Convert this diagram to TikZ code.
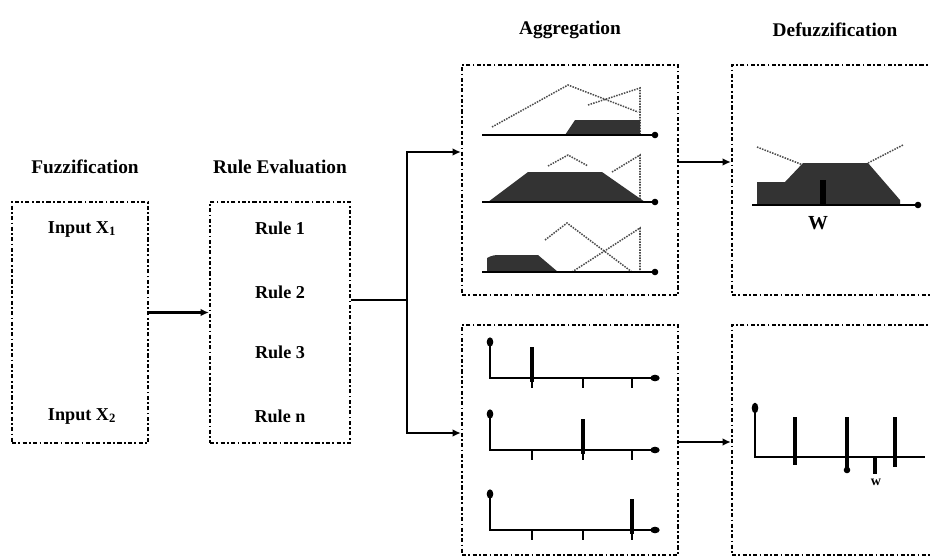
\documentclass[tikz,border=0pt]{standalone}
\usepackage{fontspec}
\setmainfont{Liberation Serif}
\usetikzlibrary{calc,arrows.meta}

\begin{document}
\begin{tikzpicture}[x=0.03cm, y=-0.03cm,
  stage/.style={draw, line width=2pt, dash pattern=on 3.5pt off 2pt on 1.5pt off 2pt, inner sep=0pt},
  title/.style={font=\fontsize{16.5}{19}\selectfont\bfseries},
  item/.style={font=\fontsize{15.5}{18}\selectfont\bfseries},
  link/.style={-{Latex[length=7pt,width=6.5pt]}, line width=2pt},
  axis/.style={line width=2.4pt},
  fuzzy/.style={fill=black!80},
  member/.style={densely dotted, line width=1.3pt, black!70},
  spike/.style={line width=3pt}
]
\useasboundingbox (0,0) rectangle (930,557);

% the four stages
\node[stage, minimum width=4.08cm, minimum height=7.23cm] (fuzz) at (80,322.5) {};
\node[stage, minimum width=4.2cm, minimum height=7.23cm] (rule) at (280,322.5) {};
\node[stage, minimum width=6.48cm, minimum height=6.9cm] (aggtop) at (570,180) {};
\node[stage, minimum width=6.48cm, minimum height=6.9cm] (aggbot) at (570,440) {};
\node[stage, minimum width=6.54cm, minimum height=6.9cm] (deftop) at (841,180) {};
\node[stage, minimum width=6.54cm, minimum height=6.9cm] (defbot) at (841,440) {};

\node[title] (tfuzz) at (85,167) {Fuzzification};
\node[title] (trule) at (280,167) {Rule Evaluation};
\node[title] (tagg) at (570,30) {Aggregation};
\node[title] (tdef) at (835,30) {Defuzzification};

\node[item] (x1) at (82,229) {Input X\textsubscript{1}};
\node[item] (x2) at (82,416) {Input X\textsubscript{2}};
\node[item] (r1) at (280,228) {Rule 1};
\node[item] (r2) at (280,292) {Rule 2};
\node[item] (r3) at (280,352) {Rule 3};
\node[item] (rn) at (280,416) {Rule n};

% connectors
\coordinate (split) at (407,300);
\draw[link] ($(fuzz.east)+(0,-10)$) -- ($(rule.west)+(0,-10)$);
\draw[line width=2pt] (split -| rule.east) -- (split);
\draw[link] (split) |- ($(aggtop.west)+(0,-28)$);
\draw[link] (split) |- ($(aggbot.west)+(0,-7)$);
\draw[link] ($(aggtop.east)+(0,-18)$) -- ($(deftop.west)+(0,-18)$);
\draw[link] ($(aggbot.east)+(0,2)$) -- ($(defbot.west)+(0,2)$);

% clipped output sets
\draw[member] (492,127) -- (568,85) -- (638,112);
\draw[member] (588,105) -- (640,88) -- (640,135);
\fill[fuzzy] (565,135) -- (575,120) -- (640,120) -- (640,135) -- cycle;
\draw[axis] (482,135) -- (653,135);
\fill (655,135) circle (2.8pt);

\draw[member] (548,166) -- (568,155) -- (588,166);
\draw[member] (612,172) -- (640,155) -- (640,202);
\fill[fuzzy] (488,202) -- (528,172) -- (602,172) -- (645,202) -- cycle;
\draw[axis] (482,202) -- (653,202);
\fill (655,202) circle (2.8pt);

\draw[member] (545,240) -- (567,223) -- (632,272);
\draw[member] (572,272) -- (640,228) -- (640,272);
\fill[fuzzy] (487,272) -- (487,258) to[bend left=15] (500,255) -- (538,255) -- (558,272) -- cycle;
\draw[axis] (482,272) -- (653,272);
\fill (655,272) circle (2.8pt);

% combined set and its centroid
\draw[member] (757,147) -- (803,165);
\draw[member] (868,163) -- (903,145);
\fill[fuzzy] (757,205) -- (757,182) -- (785,182) -- (803,163) -- (868,163) -- (900,200) -- (900,205) -- cycle;
\fill (820,180) rectangle (826,205);
\draw[axis] (752,205) -- (915,205);
\fill (918,205) circle (2.8pt);
\node[item, font=\fontsize{17}{20}\selectfont\bfseries] (wtop) at (818,223) {W};

% singleton outputs
\foreach \base/\sx in {378/532, 450/583, 530/632} {
  \draw[axis] (490,\base-35) -- (490,\base) -- (652,\base);
  \fill (490,\base-36) ellipse (2.8pt and 4pt);
  \fill (655,\base) ellipse (4pt and 2.8pt);
  \draw[spike] (\sx,\base-31) -- (\sx,\base+4);
  \foreach \t in {532,583,632}
    \draw[line width=1.4pt] (\t,\base) -- (\t,\base+10);
}

\draw[axis] (755,409) -- (755,457) -- (925,457);
\fill (755,408) ellipse (2.8pt and 4.5pt);
\foreach \sx/\lo in {795/465, 847/470, 895/467}
  \draw[spike] (\sx,417) -- (\sx,\lo);
\fill (847,470) circle (2.8pt);
\draw[spike] (875,457) -- (875,474);
\node[item, font=\fontsize{12}{14}\selectfont\bfseries] (wbot) at (876,482) {w};
\end{tikzpicture}
\end{document}
